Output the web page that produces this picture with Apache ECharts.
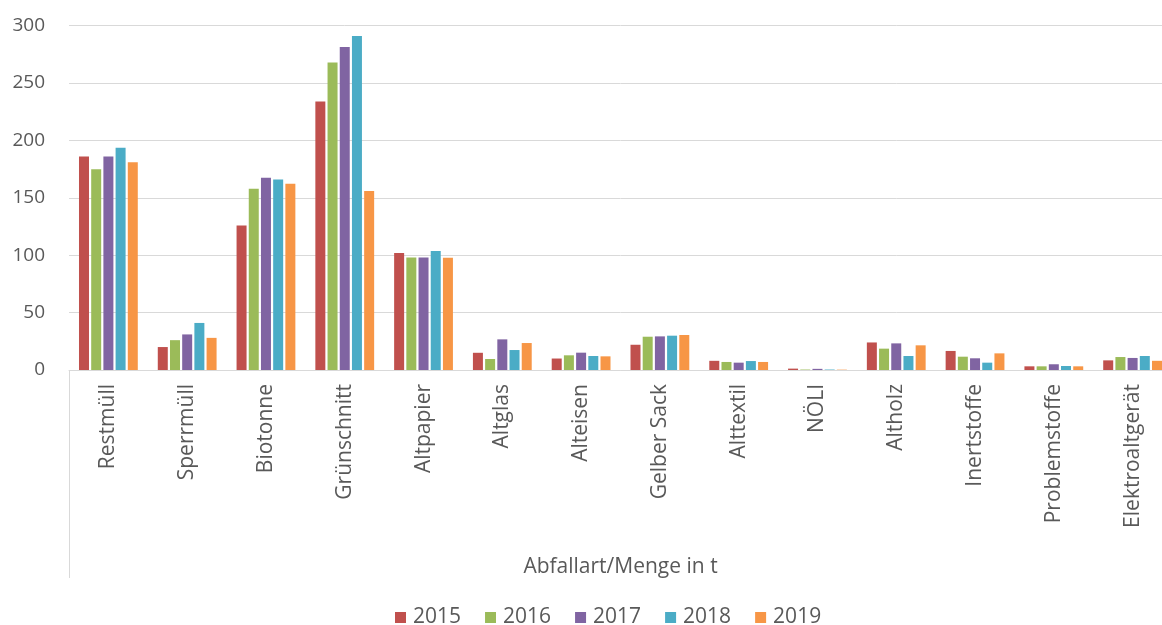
<!DOCTYPE html>
<html>
<head>
<meta charset="utf-8">
<script src="https://cdn.jsdelivr.net/npm/echarts@6/dist/echarts.min.js"></script>
<style>
html,body{margin:0;padding:0;background:#fff;overflow:hidden;}
#chart{width:1172px;height:625px;}
</style>
</head>
<body>
<div id="chart"></div>
<script>
const categories = ['Restmüll','Sperrmüll','Biotonne','Grünschnitt','Altpapier','Altglas','Alteisen','Gelber Sack','Alttextil','NÖLI','Altholz','Inertstoffe','Problemstoffe','Elektroaltgerät'];
const years = ['2015','2016','2017','2018','2019'];
const v2015 = [186, 20, 126, 234, 102, 15, 10, 22, 8, 1.2, 24, 16.6, 3.2, 8.4];
const v2016 = [175, 26, 158, 268, 98, 9.6, 12.8, 29, 7, 0.4, 18.6, 11.6, 3.2, 11.3];
const v2017 = [186, 31, 167.5, 281.5, 98, 26.7, 15.1, 29.3, 6.4, 1.0, 23.2, 10.2, 5, 10.5];
const v2018 = [193.6, 41, 166, 291, 103.7, 17.4, 12.2, 29.9, 7.8, 0.4, 12.2, 6.4, 3.5, 12.2];
const v2019 = [181, 28, 162.3, 156, 97.8, 23.5, 11.9, 30.5, 7, 0.3, 21.5, 14.5, 3.2, 8];
const yTicks = [0, 50, 100, 150, 200, 250, 300];
const colors = ['#C0504D','#9BBB59','#8064A2','#4BACC6','#F79646'];
const seriesValues = [v2015, v2016, v2017, v2018, v2019];

const chart = echarts.init(document.getElementById('chart'), null, {renderer:'canvas'});
const font = '"Open Sans", "DejaVu Sans", sans-serif';
chart.setOption({
  animation:false,
  color: colors,
  textStyle:{fontFamily:font},
  grid:{left:69, right:0, top:25.7, bottom:255, containLabel:false},
  legend:{
    data: years, left:395, top:607, padding:0, itemWidth:11, itemHeight:11, itemGap:24,
    icon:'rect',
    textStyle:{fontSize:21, color:'#595959', fontFamily:font, padding:[0,0,0,2]}
  },
  xAxis:{
    type:'category', data: categories,
    name:'Abfallart/Menge in t', nameLocation:'middle', nameGap:187,
    nameTextStyle:{fontSize:21, color:'#595959', fontFamily:font},
    axisLine:{show:true, lineStyle:{color:'#d9d9d9', width:1}},
    axisTick:{show:false},
    axisLabel:{rotate:90, fontSize:21, color:'#595959', margin:14, fontFamily:font, interval:0}
  },
  yAxis:{
    type:'value', min:yTicks[0], max:yTicks[yTicks.length-1], interval:50,
    axisLine:{show:false}, axisTick:{show:false},
    axisLabel:{fontSize:19, color:'#595959', margin:24, fontFamily:font},
    splitLine:{lineStyle:{color:'#d9d9d9', width:1}}
  },
  graphic:[{type:'line', shape:{x1:69.5, y1:370, x2:69.5, y2:578}, style:{stroke:'#d9d9d9', lineWidth:1}, silent:true}],
  series: years.map((y,i)=>({
    name:y, type:'bar', data: seriesValues[i], barWidth:10, barGap:'22%'
  }))
});
</script>
</body>
</html>
